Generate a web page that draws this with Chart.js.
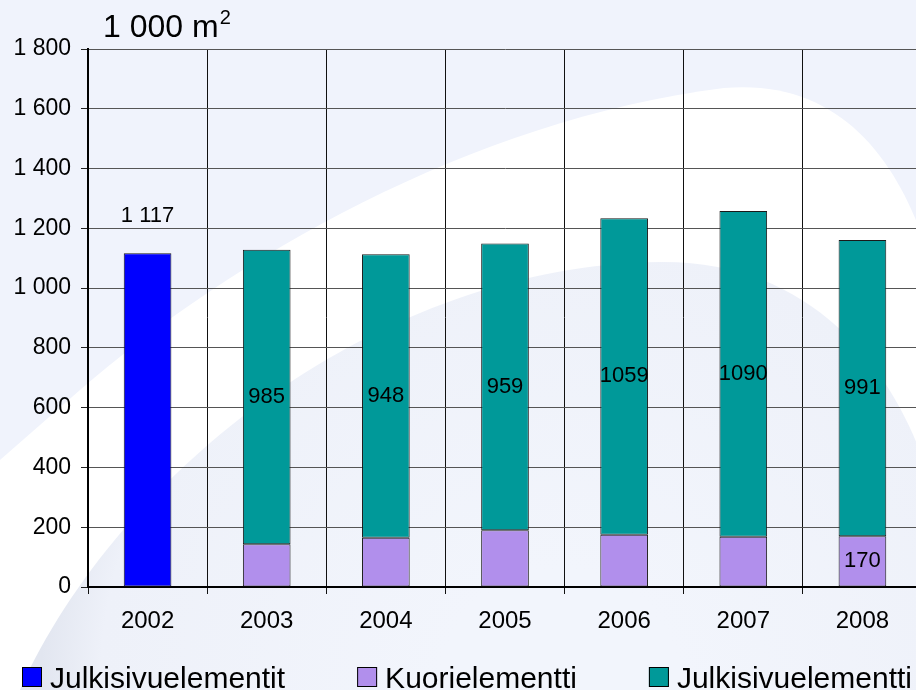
<!DOCTYPE html>
<html lang="fi">
<head>
<meta charset="utf-8">
<title>Julkisivuelementit 2002–2008</title>
<script src="https://cdn.jsdelivr.net/npm/chart.js@4.4.1/dist/chart.umd.min.js"></script>
<style>
  html, body { margin: 0; padding: 0; width: 916px; height: 690px; overflow: hidden; background: #f0f3fc; }
  #wrap { position: relative; width: 924px; height: 690px; }
</style>
</head>
<body>
<div id="wrap"><canvas id="chart"></canvas></div>
<script>
// Julkisivu- ja kuorielementtien tuotanto, 1 000 m2

const YEARS = ['2002', '2003', '2004', '2005', '2006', '2007', '2008'];
const JULKISIVU_OLD = [1117, null, null, null, null, null, null];
const KUORI = [null, 143, 165, 190, 175, 168, 170];
const JULKISIVU = [null, 985, 948, 959, 1059, 1090, 991];
const Y_TICK_LABELS = ['0', '200', '400', '600', '800', '1 000', '1 200', '1 400', '1 600', '1 800'];
const Y_MAX = 1800;
const Y_STEP = 200;

const FONT = "'Liberation Sans', Arial, sans-serif";
const INK = '#000000';

function spaced(n) {
  return String(n).replace(/\B(?=(\d{3})+(?!\d))/g, ' ');
}

// taustan kaaret (koriste, ei dataa)
const backdrop = {
  id: 'backdrop',
  beforeDraw(chart) {
    const { ctx, width, height } = chart;
    ctx.save();
    ctx.fillStyle = '#f0f3fc';
    ctx.fillRect(0, 0, width, height);

    ctx.fillStyle = '#ffffff';
    ctx.beginPath();
    ctx.moveTo(0, 460);
    ctx.lineTo(80, 390);
    ctx.bezierCurveTo(230, 260, 470, 120, 724, 88);
    ctx.bezierCurveTo(840, 78, 900, 160, 930, 260);
    ctx.lineTo(930, height);
    ctx.lineTo(0, height);
    ctx.closePath();
    ctx.fill();

    ctx.beginPath();
    ctx.moveTo(20, height);
    ctx.bezierCurveTo(120, 470, 380, 265, 660, 262);
    ctx.bezierCurveTo(820, 260, 900, 380, 930, 480);
    ctx.lineTo(930, height);
    ctx.closePath();
    const g = ctx.createRadialGradient(560, 690, 120, 560, 690, 520);
    g.addColorStop(0, '#f2f5fc');
    g.addColorStop(0.85, '#eef1f9');
    g.addColorStop(1, '#e2e6f0');
    ctx.fillStyle = g;
    ctx.fill();
    ctx.restore();
  },
};

// arvot pylväiden päälle
const valueLabels = {
  id: 'valueLabels',
  afterDatasetsDraw(chart) {
    const { ctx } = chart;
    ctx.save();
    ctx.font = `22px ${FONT}`;
    ctx.fillStyle = INK;
    ctx.textAlign = 'center';
    ctx.textBaseline = 'middle';
    chart.data.datasets.forEach((ds, di) => {
      const meta = chart.getDatasetMeta(di);
      meta.data.forEach((bar, i) => {
        const v = ds.data[i];
        if (v == null) return;
        if (ds.labelMode === 'above') {
          ctx.fillText(spaced(v), bar.x, bar.y - 37);
        } else if (ds.labelMode === 'center' || (ds.labelIndexes && ds.labelIndexes.includes(i))) {
          ctx.fillText(String(v), bar.x, (bar.y + bar.base) / 2);
        }
      });
    });
    ctx.restore();
  },
};

// yksikkö ja selite
const decorations = {
  id: 'decorations',
  afterDraw(chart) {
    const { ctx } = chart;
    ctx.save();
    ctx.fillStyle = INK;
    ctx.textBaseline = 'alphabetic';
    ctx.textAlign = 'left';
    ctx.font = `32px ${FONT}`;
    const unit = '1 000 m';
    ctx.fillText(unit, 103, 37);
    const uw = ctx.measureText(unit).width;
    ctx.font = `20px ${FONT}`;
    ctx.fillText('2', 103 + uw + 1, 24);

    ctx.font = `30px ${FONT}`;
    const items = chart.data.datasets.map((ds) => ({
      text: ds.label, color: ds.backgroundColor, w: ctx.measureText(ds.label).width,
    }));
    const box = 20;
    const gap = 8;
    const left = 22;
    const right = 912;
    const used = items.reduce((s, it) => s + box + gap + it.w, 0);
    const spacing = (right - left - used) / (items.length - 1);
    let x = left;
    items.forEach((it) => {
      ctx.fillStyle = it.color;
      ctx.fillRect(x, 667, box, box);
      ctx.strokeStyle = INK;
      ctx.lineWidth = 1;
      ctx.strokeRect(x + 0.5, 667.5, box - 1, box - 1);
      ctx.fillStyle = INK;
      ctx.fillText(it.text, x + box + gap, 688);
      x += box + gap + it.w + spacing;
    });
    ctx.restore();
  },
};

new Chart(document.getElementById('chart'), {
  type: 'bar',
  data: {
    labels: YEARS,
    datasets: [
      {
        label: 'Julkisivuelementit',
        data: JULKISIVU_OLD,
        backgroundColor: '#0000ff',
        labelMode: 'above',
      },
      {
        label: 'Kuorielementti',
        data: KUORI,
        backgroundColor: '#b18fec',
        labelIndexes: [6],
      },
      {
        label: 'Julkisivuelementti',
        data: JULKISIVU,
        backgroundColor: '#009999',
        labelMode: 'center',
      },
    ],
  },
  options: {
    responsive: true,
    maintainAspectRatio: false,
    animation: false,
    layout: { padding: { top: 49, right: 2, left: 0, bottom: 0 } },
    datasets: {
      bar: {
        borderColor: '#1a1a1a',
        borderWidth: 1,
        borderSkipped: false,
        categoryPercentage: 1,
        barPercentage: 0.4,
        grouped: false,
      },
    },
    plugins: {
      legend: { display: false },
      tooltip: { enabled: false },
    },
    scales: {
      x: {
        stacked: true,
        afterFit: (s) => { s.height = 103; },
        grid: { offset: true, color: '#111', lineWidth: 1, tickLength: 7, tickColor: '#111' },
        border: { display: true, color: INK, width: 2 },
        ticks: { color: INK, font: { family: FONT, size: 24 }, padding: 13 },
      },
      y: {
        stacked: true,
        min: 0,
        max: Y_MAX,
        afterFit: (s) => { s.width = 88; },
        grid: { color: '#555', lineWidth: 1, tickLength: 7, tickColor: '#222' },
        border: { display: true, color: INK, width: 2 },
        ticks: {
          stepSize: Y_STEP,
          color: INK,
          padding: 10,
          font: { family: FONT, size: 23 },
          callback: (value, i) => Y_TICK_LABELS[i],
        },
      },
    },
  },
  plugins: [backdrop, valueLabels, decorations],
});
</script>
</body>
</html>
